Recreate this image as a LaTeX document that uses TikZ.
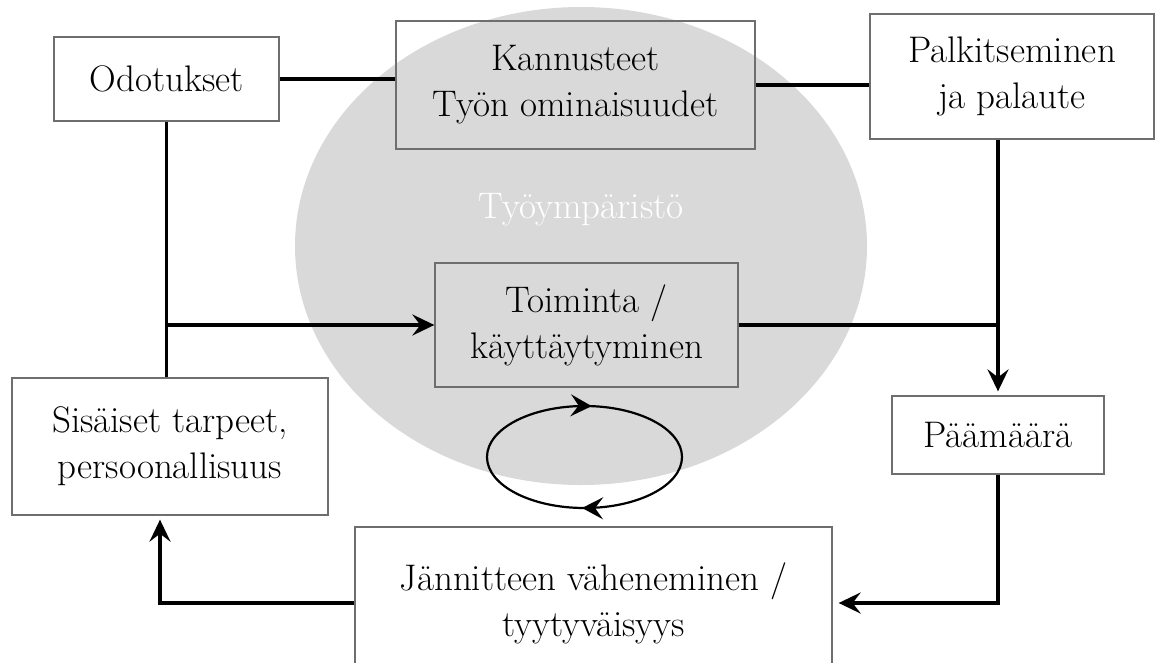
\documentclass[tikz,border=0pt]{standalone}
\usepackage{tikz}
\usetikzlibrary{arrows.meta}
\usetikzlibrary{calc}
\usetikzlibrary{decorations.markings}
\usepackage{xcolor}

\definecolor{envgray}{RGB}{217,217,217}
\definecolor{framegray}{RGB}{110,110,110}

\begin{document}
\begin{tikzpicture}[x=1pt,y=1pt,
	box/.style={draw=framegray, line width=1.3pt, align=center, inner sep=0pt,
		font=\fontsize{37}{46}\selectfont},
	conn/.style={line width=3.3pt},
	tip/.style={-{Stealth[length=22pt,width=21pt,inset=8pt]}}]
		
		\clip (0,0) rectangle (1157,-662);
		
		% work environment
		\fill[envgray] (581,-246) ellipse [x radius=286, y radius=239];
		\node[white, font=\fontsize{37}{46}\selectfont] (env) at (581,-210) {Työympäristö};
		
		% boxes
		\node[box, minimum width=225, minimum height=84] (odot) at (166.5,-79) {Odotukset};
		\node[box, minimum width=359, minimum height=128] (kann) at (575.5,-85) {Kannusteet\\Työn ominaisuudet};
		\node[box, minimum width=284, minimum height=125] (palk) at (1012,-76.5) {Palkitseminen\\ja palaute};
		\node[box, minimum width=303, minimum height=124] (toim) at (586.5,-325) {Toiminta /\\käyttäytyminen};
		\node[box, minimum width=212, minimum height=78] (paam) at (998,-435) {Päämäärä};
		\node[box, minimum width=477, minimum height=152] (jann) at (593.5,-603) {Jännitteen väheneminen /\\tyytyväisyys};
		\node[box, minimum width=316, minimum height=137] (sisa) at (170,-446.5) {Sisäiset tarpeet,\\persoonallisuus};
		
		% connectors
		\draw[conn] (odot.east) -- (odot.east -| kann.west);
		\draw[conn] (kann.east) -- (kann.east -| palk.west);
		\draw[conn] (odot.south) -- (odot.south |- sisa.north);
		\draw[conn,tip] (odot.south |- toim.west) -- (toim.west);
		\draw[conn] (toim.east) -- (toim.east -| paam.north);
		\draw[conn,tip,shorten >=4pt] (palk.south -| paam.north) -- (paam.north);
		\draw[conn,tip,shorten >=6pt] (paam.south) |- (jann.east);
		\draw[conn,tip,shorten >=4pt] (jann.west) -| ([xshift=-10pt]sisa.south);
		
		% cycle
		\draw[line width=2.2pt, decoration={markings,
			mark=at position 0.235 with {\arrowreversed{Stealth[length=21pt,width=22pt,inset=8pt]}},
			mark=at position 0.745 with {\arrowreversed{Stealth[length=21pt,width=22pt,inset=8pt]}}},
		postaction={decorate}]
		(584.5,-457) ellipse [x radius=97.5, y radius=51];
		
	\end{tikzpicture}
\end{document}
